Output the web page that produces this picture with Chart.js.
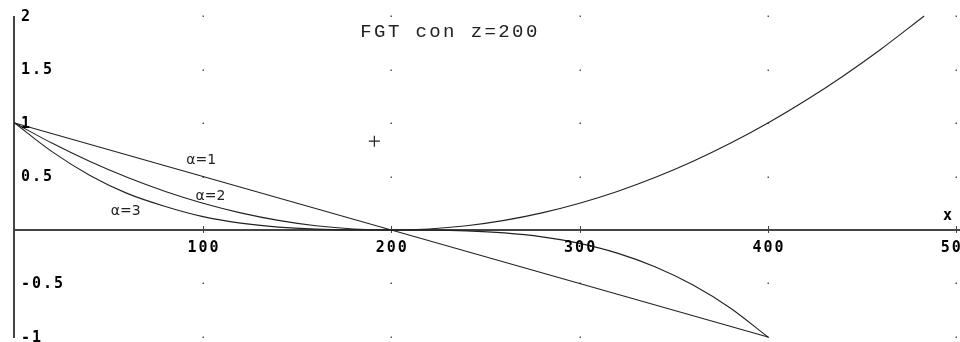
<!DOCTYPE html>
<html>
<head>
<meta charset="utf-8">
<script src="https://cdn.jsdelivr.net/npm/chart.js@4/dist/chart.umd.min.js"></script>
<style>
  html, body { margin: 0; padding: 0; background: #fff; }
  canvas { display: block; }
</style>
</head>
<body>
<canvas id="c" width="960" height="342"></canvas>
<script>
// FGT poverty measure against income x, poverty line z = 200
const titleText = "FGT con z=200";

// alpha = 1
const a1X = [0, 100, 200, 300, 400];
const a1Y = [1, 0.5, 0, -0.5, -1];

// alpha = 2
const a2X = [0, 20, 40, 60, 80, 100, 120, 140, 160, 180, 200, 220, 240, 260, 280, 300, 320, 340, 360, 380, 400, 420, 440, 460, 483];
const a2Y = [1, 0.81, 0.64, 0.49, 0.36, 0.25, 0.16, 0.09, 0.04, 0.01, 0, 0.01, 0.04, 0.09, 0.16, 0.25, 0.36, 0.49, 0.64, 0.81, 1, 1.21, 1.44, 1.69, 2.0];

// alpha = 3
const a3X = [0, 20, 40, 60, 80, 100, 120, 140, 160, 180, 200, 220, 240, 260, 280, 300, 320, 340, 360, 380, 400];
const a3Y = [1, 0.73, 0.51, 0.34, 0.22, 0.125, 0.064, 0.027, 0.008, 0.001, 0, -0.001, -0.008, -0.027, -0.064, -0.125, -0.216, -0.343, -0.512, -0.729, -1];

// cursor cross
const crossX = [191];
const crossY = [0.83];

// axis ticks
const xTicks = [100, 200, 300, 400, 500];
const xTickLabels = ["100", "200", "300", "400", "500"];
const yTicks = [-1, -0.5, 0.5, 1, 1.5, 2];
const yTickLabels = ["-1", "-0.5", "0.5", "1", "1.5", "2"];

// curve captions: [text, x, y]
const captions = [
  ["\u03b1=1", 99, 0.65],
  ["\u03b1=2", 104, 0.31],
  ["\u03b1=3", 59, 0.17]
];

const toPts = (xs, ys) => xs.map((x, i) => ({ x: x, y: ys[i] }));

const ink = "#222";
const monoBold = "bold 15px 'DejaVu Sans Mono', monospace";

const decor = {
  id: "decor",
  beforeDatasetsDraw(chart) {
    const { ctx, scales: { x, y } } = chart;
    ctx.save();
    // grid dots at tick intersections
    ctx.fillStyle = "#555";
    xTicks.forEach(tx => {
      yTicks.forEach(ty => {
        const px = Math.round(x.getPixelForValue(tx));
        const py = Math.round(y.getPixelForValue(ty));
        ctx.fillRect(px - 0.5, py - 0.5, 1.5, 1.5);
      });
    });
    // axes
    ctx.strokeStyle = "#444";
    ctx.lineWidth = 2;
    const x0 = Math.round(x.getPixelForValue(0)) - 1;
    const y0 = Math.round(y.getPixelForValue(0));
    ctx.beginPath();
    ctx.moveTo(x0, y.getPixelForValue(2));
    ctx.lineTo(x0, y.getPixelForValue(-1) + 1);
    ctx.stroke();
    ctx.beginPath();
    ctx.moveTo(x0, y0);
    ctx.lineTo(chart.width, y0);
    ctx.stroke();
    // x tick marks
    ctx.lineWidth = 1;
    xTicks.forEach(tx => {
      const px = Math.round(x.getPixelForValue(tx)) + 0.5;
      ctx.beginPath();
      ctx.moveTo(px, y0 - 4);
      ctx.lineTo(px, y0 + 3);
      ctx.stroke();
    });
    ctx.restore();
  },
  afterDatasetsDraw(chart) {
    const { ctx, scales: { x, y } } = chart;
    ctx.save();
    ctx.fillStyle = "#000";
    ctx.font = monoBold;
    ctx.letterSpacing = "2px";
    ctx.textBaseline = "middle";
    // x tick labels
    ctx.textAlign = "center";
    const y0 = y.getPixelForValue(0);
    xTicks.forEach((tx, i) => {
      ctx.fillText(xTickLabels[i], x.getPixelForValue(tx) + 1, y0 + 18);
    });
    // y tick labels
    ctx.textAlign = "left";
    yTicks.forEach((ty, i) => {
      ctx.fillText(yTickLabels[i], 21, y.getPixelForValue(ty) + 1);
    });
    // axis name
    ctx.fillText("x", 943, y0 - 14);
    // curve captions
    ctx.letterSpacing = "0px";
    ctx.font = "14px 'DejaVu Sans', sans-serif";
    ctx.textAlign = "center";
    ctx.fillStyle = ink;
    captions.forEach(c => {
      ctx.fillText(c[0], x.getPixelForValue(c[1]), y.getPixelForValue(c[2]));
    });
    // title
    ctx.font = "19px 'Liberation Mono', 'Courier New', monospace";
    ctx.letterSpacing = "2.4px";
    ctx.textAlign = "center";
    ctx.textBaseline = "alphabetic";
    ctx.fillText(titleText, 450, 37);
    ctx.restore();
  }
};

const lineStyle = {
  showLine: true,
  borderColor: ink,
  borderWidth: 1.1,
  pointRadius: 0,
  fill: false,
  cubicInterpolationMode: "monotone"
};

new Chart(document.getElementById("c"), {
  type: "scatter",
  data: {
    datasets: [
      Object.assign({ label: "\u03b1=1", data: toPts(a1X, a1Y) }, lineStyle, { cubicInterpolationMode: "default", tension: 0 }),
      Object.assign({ label: "\u03b1=2", data: toPts(a2X, a2Y) }, lineStyle),
      Object.assign({ label: "\u03b1=3", data: toPts(a3X, a3Y) }, lineStyle),
      {
        label: "cursor",
        data: toPts(crossX, crossY),
        showLine: false,
        pointStyle: "cross",
        pointRadius: 5.5,
        borderColor: ink,
        borderWidth: 1.2,
        backgroundColor: ink
      }
    ]
  },
  options: {
    responsive: false,
    animation: false,
    events: [],
    layout: { padding: 0, autoPadding: false },
    plugins: { legend: { display: false }, tooltip: { enabled: false }, title: { display: false } },
    scales: {
      x: { type: "linear", min: -7.8, max: 502, display: false },
      y: { type: "linear", min: -1.047, max: 2.15, display: false }
    }
  },
  plugins: [decor]
});
</script>
</body>
</html>
